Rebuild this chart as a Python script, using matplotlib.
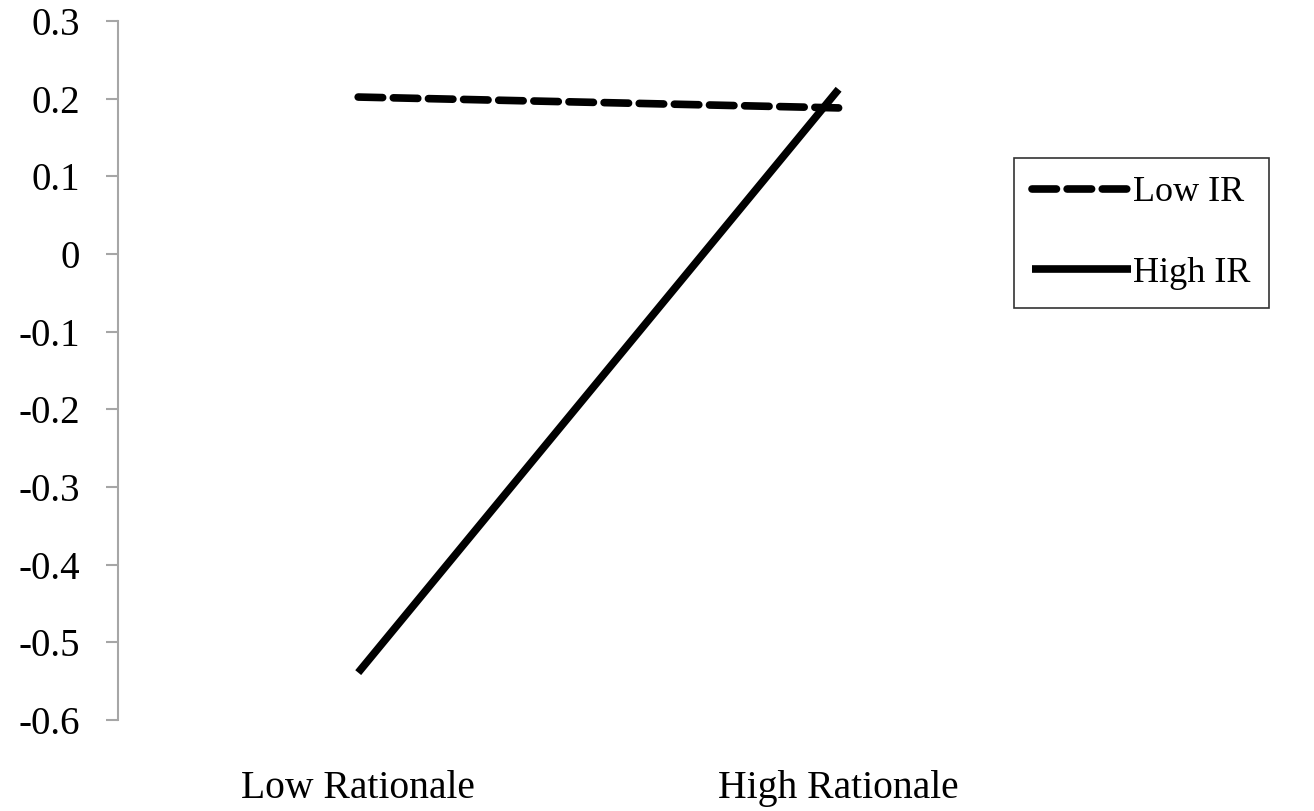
import matplotlib.pyplot as plt

# interaction plot: rationale x IR
categories = ["Low Rationale", "High Rationale"]
low_ir = [0.202, 0.188]
high_ir = [-0.539, 0.212]
yticks = [-0.6, -0.5, -0.4, -0.3, -0.2, -0.1, 0, 0.1, 0.2, 0.3]
ytick_labels = ["-0.6", "-0.5", "-0.4", "-0.3", "-0.2", "-0.1", "0", "0.1", "0.2", "0.3"]

plt.rcParams["font.family"] = ["Liberation Serif", "DejaVu Serif"]

fig = plt.figure(figsize=(13.14, 8.11), dpi=100)
ax = fig.add_axes([0.0898, 0.1122, 0.7312, 0.862])

x = range(len(categories))
ax.plot(x, low_ir, color="black", lw=5.5, linestyle=(0, (3.2, 1.4)),
        dash_capstyle="round", label="Low IR")
ax.plot(x, high_ir, color="black", lw=5.5, solid_capstyle="butt", label="High IR")

ax.set_xlim(-0.5, 1.5)
ax.set_ylim(-0.6, 0.3)
ax.set_xticks(list(x))
ax.set_xticklabels(categories, fontsize=28.5)
ax.set_yticks(yticks)
ax.set_yticklabels(ytick_labels, fontsize=28)
ax.tick_params(axis="x", length=0, pad=36)
ax.tick_params(axis="y", length=8.5, width=1.5, color="#a6a6a6", pad=19)

for s in ["top", "right", "bottom"]:
    ax.spines[s].set_visible(False)
ax.spines["left"].set_color("#a6a6a6")
ax.spines["left"].set_linewidth(1.5)

leg = ax.legend(loc="upper left", bbox_to_anchor=(1014 / 1314, 1 - 158 / 811),
                bbox_transform=fig.transFigure, fontsize=26, frameon=True,
                fancybox=False, edgecolor="black", handlelength=2.75,
                handletextpad=0.05, borderpad=0.5, labelspacing=1.3,
                borderaxespad=0)
leg.get_frame().set_linewidth(1.2)

fig.savefig("out.png", dpi=100)
